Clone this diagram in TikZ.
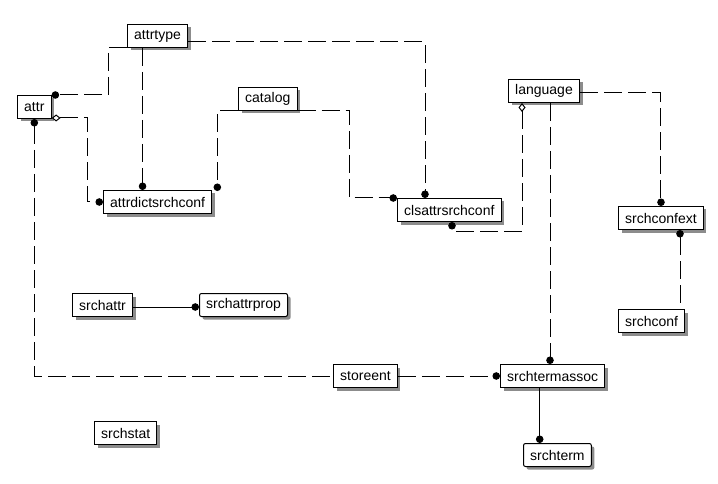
\documentclass[tikz,border=0pt]{standalone}
\usepackage{fontspec}
\setmainfont{Liberation Sans}
\usetikzlibrary{arrows.meta,shadows}
\tikzset{
  tbl/.style={draw, line width=1pt, fill=white, anchor=north west,
    inner xsep=6.7pt, inner ysep=0pt, minimum height=23pt,
    font=\fontsize{14}{16}\selectfont,
    drop shadow={shadow xshift=3pt, shadow yshift=-3pt, fill=black!45, opacity=1}},
  rel/.style={line width=1pt, dash pattern=on 18pt off 6pt},
  idrel/.style={line width=1pt},
  ball/.tip={Circle[length=7.5pt]},
  opendiam/.tip={Diamond[open,length=9pt,width=7pt,line width=1pt]}
}
\begin{document}
\begin{tikzpicture}[x=1pt,y=-1pt]
  \useasboundingbox (0,0) rectangle (718,484);
  % Tables
  \foreach \name/\x/\y in {attrtype/127/24, attr/17/95, catalog/238/87,
      attrdictsrchconf/103/190, clsattrsrchconf/397/198, language/508/79,
      srchconfext/618/206, srchconf/618/309, srchattr/72/293,
      srchstat/94/421, storeent/333/364, srchtermassoc/500/364} {
    \node[tbl] (\name) at (\x,\y) {\name};
  }
  \node[tbl, rounded corners=2pt] (srchattrprop) at (199,293) {srchattrprop};
  \node[tbl, rounded corners=2pt] (srchterm) at (523,443) {srchterm};
  % Relations from attr and attrtype
  \draw[rel,-ball] (attrtype.south west) -- ++(-19,0) |- (attr.north east);
  \draw[rel,-ball] ([xshift=-15pt]attrtype.south) -- ([xshift=-15pt]attrtype.south |- attrdictsrchconf.north);
  \draw[rel,-ball] ([yshift=-6pt]attrtype.east) -| ([xshift=28pt]clsattrsrchconf.north west);
  \draw[rel,opendiam-ball] ([yshift=1pt]attr.south east) -- ++(36,0) |- (attrdictsrchconf.west);
  \draw[rel,ball-] (attr.south) |- (storeent.west);
  % Relations from catalog
  \draw[rel,-ball] (catalog.south west) -| ([xshift=5pt,yshift=-1pt]attrdictsrchconf.north east);
  \draw[rel,-ball] (catalog.south east) -- ++(52,0) |- (clsattrsrchconf.north west);
  % Relations from language
  \draw[rel,opendiam-ball] ([xshift=14pt]language.south west) -- ++(0,128) -| ([xshift=55pt]clsattrsrchconf.south west);
  \draw[rel,-ball] ([yshift=-2pt]language.east) -| (srchconfext.north);
  \draw[rel,-ball] ([xshift=42pt]language.south west) -- ([xshift=42pt]language.south west |- srchtermassoc.north);
  \draw[rel,ball-] ([xshift=62pt]srchconfext.south west) -- ([xshift=62pt]srchconfext.south west |- srchconf.north);
  % Remaining relations
  \draw[idrel,-ball] ([yshift=-2pt]srchattr.east) -- ([yshift=-2pt]srchattrprop.west);
  \draw[rel,-ball] (storeent.east) -- (srchtermassoc.west);
  \draw[idrel,-ball] ([xshift=-13pt]srchtermassoc.south) -- ([xshift=-13pt]srchtermassoc.south |- srchterm.north);
\end{tikzpicture}
\end{document}
